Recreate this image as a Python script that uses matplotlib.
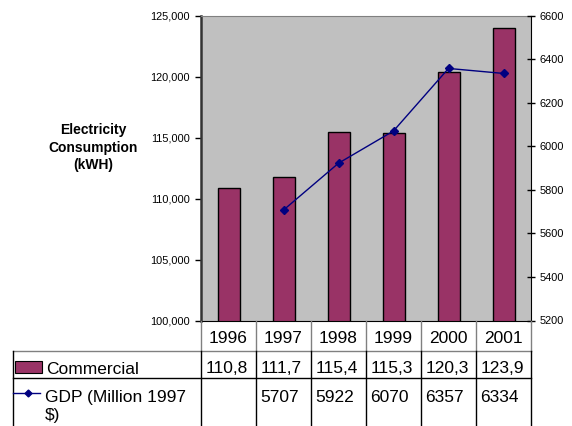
import numpy as np
import matplotlib
matplotlib.use("Agg")
import matplotlib.pyplot as plt
from matplotlib.patches import Rectangle
from matplotlib.lines import Line2D
from matplotlib.ticker import FuncFormatter

plt.rcParams["font.family"] = ["Liberation Sans", "DejaVu Sans"]

# Data
years = ["1996", "1997", "1998", "1999", "2000", "2001"]
commercial = [110870, 111750, 115410, 115350, 120380, 123990]
gdp = [np.nan, 5707, 5922, 6070, 6357, 6334]

bar_color = "#993366"
line_color = "#000080"

W, H = 572, 426
fig = plt.figure(figsize=(W / 100, H / 100), dpi=100)

# plot area in pixels
px0, px1 = 201, 531
py0, py1 = 15.5, 320.5
ax = fig.add_axes([px0 / W, 1 - py1 / H, (px1 - px0) / W, (py1 - py0) / H])
ax.set_facecolor("#C0C0C0")

x = np.arange(len(years))
ax.bar(x, commercial, width=0.4, color=bar_color, edgecolor="black", lw=1, zorder=2)
ax.set_xlim(-0.5, len(years) - 0.5)
ax.set_ylim(100000, 125000)
ax.set_yticks(np.arange(100000, 125001, 5000))
ax.yaxis.set_major_formatter(FuncFormatter(lambda v, p: f"{int(v):,}"))
ax.set_xticks([])
ax.tick_params(axis="y", direction="out", length=4, width=1, pad=4, labelsize=7.9)
ax.spines["left"].set_color("#333333")
ax.spines["left"].set_linewidth(1.8)
ax.spines["top"].set_color("#808080")
ax.spines["top"].set_linewidth(0.8)
ax.spines["bottom"].set_color("black")
ax.spines["right"].set_visible(False)

ax2 = ax.twinx()
ax2.plot(x, gdp, color=line_color, lw=1, marker="D", ms=4, zorder=3)
ax2.set_ylim(5200, 6600)
ax2.set_yticks(np.arange(5200, 6601, 200))
ax2.tick_params(axis="y", direction="inout", length=6, width=1, pad=3, labelsize=7.9)
for s in ["left", "top", "bottom"]:
    ax2.spines[s].set_visible(False)
ax2.spines["right"].set_color("black")

fig.text(93 / W, 1 - 147.7 / H, "Electricity\nConsumption\n(kWH)",
         ha="center", va="center", fontsize=10, fontweight="bold", linespacing=1.3)

# Data table below the chart, drawn in pixel coordinates
tab = fig.add_axes([0, 0, 1, 1])
tab.set_xlim(0, W)
tab.set_ylim(H, 0)
tab.axis("off")

edges = px0 + (px1 - px0) * np.arange(len(years) + 1) / len(years)
row1, row2 = 350.5, 377.7
left = 13

tab.plot([left, px1], [row1, row1], color="#808080", lw=1)
tab.plot([left, px1], [row2, row2], color="black", lw=1)
tab.plot([left, left], [row1, H], color="black", lw=1)
for e in edges:
    tab.plot([e, e], [py1, row1], color="#808080", lw=1)
    tab.plot([e, e], [row1, H], color="black", lw=1)

fs = 12.5
for i, y in enumerate(years):
    cx = (edges[i] + edges[i + 1]) / 2
    tab.text(cx, 342.7, y, ha="center", va="baseline", fontsize=fs)
    # cell is narrow, so the value is cut off
    tab.text(edges[i] + 5, 373.3, f"{commercial[i]:,}"[:5], ha="left", va="baseline", fontsize=fs)
    if not np.isnan(gdp[i]):
        tab.text(edges[i] + 4, 401.7, f"{int(gdp[i])}", ha="left", va="baseline", fontsize=fs)

tab.add_patch(Rectangle((15.3, 361.3), 26.4, 12, facecolor=bar_color, edgecolor="black", lw=0.8))
tab.text(46, 374, "Commercial", ha="left", va="baseline", fontsize=fs)
tab.add_line(Line2D([13, 40], [392.7, 392.7], color=line_color, lw=1))
tab.add_line(Line2D([28], [392.7], color=line_color, marker="D", ms=3.5))
tab.text(45, 401.7, "GDP (Million 1997", ha="left", va="baseline", fontsize=fs)
tab.text(45, 420, "$)", ha="left", va="baseline", fontsize=fs)

fig.savefig("out.png", dpi=100)
